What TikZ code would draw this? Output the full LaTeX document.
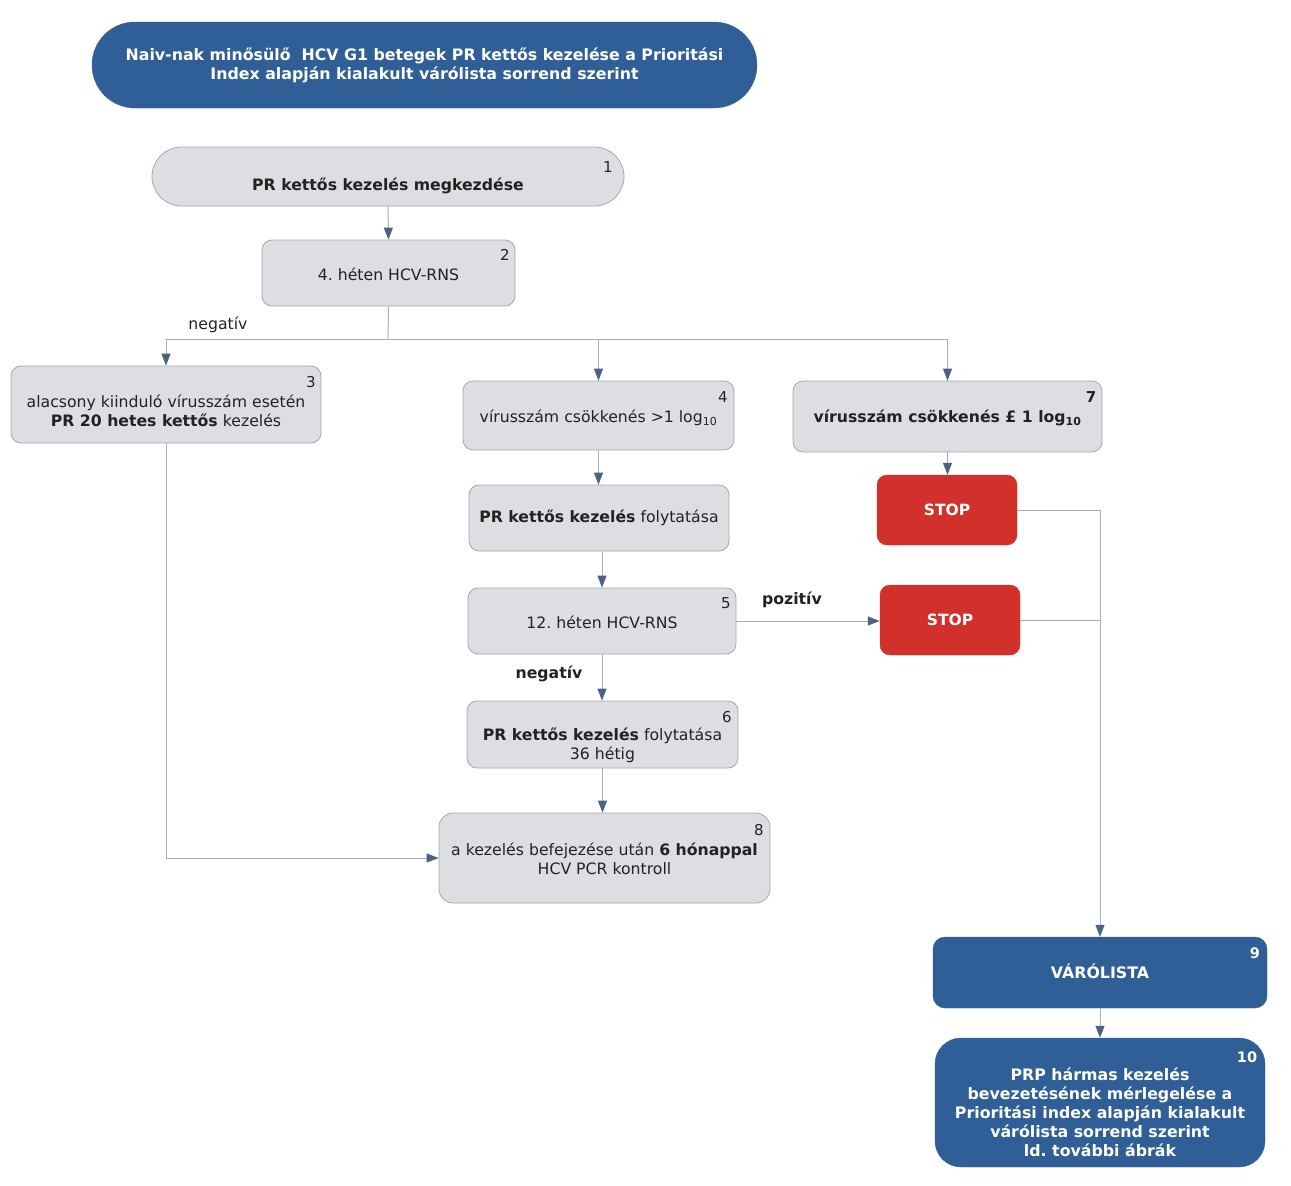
\documentclass[tikz,border=0pt]{standalone}
\usepackage{fontspec}
\setmainfont{DejaVu Sans}
\usepackage{xcolor}
\usetikzlibrary{arrows.meta,positioning}
\frenchspacing
\definecolor{navy}{HTML}{2F5F96}
\definecolor{pale}{HTML}{DCDEE2}
\definecolor{rim}{HTML}{A3A7AE}
\definecolor{wire}{HTML}{AAAFB6}
\definecolor{tip}{HTML}{4C6284}
\definecolor{stopred}{HTML}{D2302A}
\definecolor{ink}{HTML}{222222}
\tikzset{
  box/.style={draw=rim, fill=pale, line width=0.8pt, rounded corners=10pt, inner sep=0pt},
  bluebox/.style={draw=navy, fill=navy, rounded corners=12pt, inner sep=0pt},
  stopbox/.style={draw=stopred, fill=stopred, rounded corners=10pt, inner sep=0pt, text=white,
    font=\fontsize{15.5}{18}\selectfont\bfseries},
  txt/.style={text=ink, align=center, font=\fontsize{15.7}{19}\selectfont},
  wtxt/.style={text=white, align=center, font=\fontsize{15.8}{19}\selectfont\bfseries},
  num/.style={text=ink, font=\fontsize{15}{18}\selectfont},
  wnum/.style={text=white, font=\fontsize{14.5}{18}\selectfont\bfseries},
  link/.style={draw=wire, line width=1pt, -{Triangle[length=12pt,width=9pt,color=tip]}},
  plain/.style={draw=wire, line width=1pt}
}

\begin{document}
\begin{tikzpicture}[x=1pt,y=-1pt]
\useasboundingbox (0,0) rectangle (1291,1186);
% title
\node[bluebox, rounded corners=43pt, minimum width=665pt, minimum height=86pt] (top) at (424.5,65) {};
\node[wtxt] (toptxt) at (424.5,65.5) {Naiv-nak minősülő\ \ HCV G1 betegek PR kettős kezelése a Prioritási\\Index alapján kialakult várólista sorrend szerint};

% step 1
\node[box, rounded corners=29.5pt, minimum width=472pt, minimum height=59pt] (b1) at (388,176.5) {};
\node[txt] (t1) at (388,186) {\textbf{PR kettős kezelés megkezdése}};
\node[num] (k1) at (608,167) {1};
% step 2
\node[box, minimum width=253pt, minimum height=66pt] (b2) at (388.5,273) {};
\node[txt] (t2) at (388.5,274) {4. héten HCV-RNS};
\node[num] (k2) at (505,255) {2};
% step 3
\node[box, minimum width=310pt, minimum height=77pt] (b3) at (166,404.5) {};
\node[txt] (t3) at (166,410.5) {alacsony kiinduló vírusszám esetén\\\textbf{PR 20 hetes kettős} kezelés};
\node[num] (k3) at (311,382) {3};
% step 4
\node[box, minimum width=271pt, minimum height=69pt] (b4) at (598.5,415.5) {};
\node[txt] (t4) at (598.5,418) {vírusszám csökkenés >1 log\textsubscript{10}};
\node[num] (k4) at (723,397) {4};
% step 7
\node[box, minimum width=309pt, minimum height=71pt] (b7) at (947.5,416.5) {};
\node[txt] (t7) at (947.5,418) {\textbf{vírusszám csökkenés £ 1 log\textsubscript{10}}};
\node[num, font=\fontsize{15}{18}\selectfont\bfseries] (k7) at (1091,397) {7};
% continue
\node[box, minimum width=260pt, minimum height=66pt] (bc) at (599,518) {};
\node[txt] (tc) at (599,518) {\textbf{PR kettős kezelés} folytatása};
% step 5
\node[box, minimum width=268pt, minimum height=66pt] (b5) at (602,621) {};
\node[txt] (t5) at (602,622) {12. héten HCV-RNS};
\node[num] (k5) at (726,603) {5};
% step 6
\node[box, minimum width=271pt, minimum height=67pt] (b6) at (602.5,734.5) {};
\node[txt] (t6) at (602.5,745) {\textbf{PR kettős kezelés} folytatása\\36 hétig};
\node[num] (k6) at (727,717) {6};
% step 8
\node[box, rounded corners=14pt, minimum width=331pt, minimum height=90pt] (b8) at (604.5,858) {};
\node[txt] (t8) at (604.5,858.5) {a kezelés befejezése után \textbf{6 hónappal}\\HCV PCR kontroll};
\node[num] (k8) at (759,830) {8};
% stops
\node[stopbox, minimum width=140pt, minimum height=70pt] (s1) at (947,510) {STOP};
\node[stopbox, minimum width=140pt, minimum height=70pt] (s2) at (950,620) {STOP};
% waiting list
\node[bluebox, minimum width=334pt, minimum height=71pt] (b9) at (1100,972.5) {};
\node[wtxt] (t9) at (1100,971) {VÁRÓLISTA};
\node[wnum] (k9) at (1255,953) {9};
\node[bluebox, rounded corners=26pt, minimum width=330pt, minimum height=129pt] (b10) at (1100,1102.5) {};
\node[wtxt] (t10) at (1100,1112.5) {PRP hármas kezelés\\bevezetésének mérlegelése a\\Prioritási index alapján kialakult\\várólista sorrend szerint\\ld. további ábrák};
\node[wnum] (k10) at (1247,1057) {10};

% connectors
\coordinate (j1) at (388,339);
\draw[link] (b1.south) -- (b2.north);
\draw[plain] (b2.south) -- (j1);
\draw[link] (j1) -| (b3.north);
\draw[link] (j1) -| (b4.north);
\draw[link] (j1) -| (b7.north);
\node[txt] (neg1) at (218,325) {negatív};
\draw[link] (b4.south) -- (b4.south |- bc.north);
\draw[link] (bc.south -| b5.north) -- (b5.north);
\draw[link] (b5.east) -- (b5.east -| s2.west);
\node[txt] (pos) at (792,600) {\textbf{pozitív}};
\draw[link] (b5.south) -- (b5.south |- b6.north);
\node[txt] (neg2) at (549,674) {\textbf{negatív}};
\draw[link] (b6.south) -- (b6.south |- b8.north);
\draw[link] (b3.south) |- (b8.west);
\draw[link] (b7.south) -- (b7.south |- s1.north);
\draw[link] (s1.east) -| (b9.north);
\draw[plain] (s2.east) -- (s2.east -| b9.north);
\draw[link] (b9.south) -- (b10.north);
\end{tikzpicture}
\end{document}
